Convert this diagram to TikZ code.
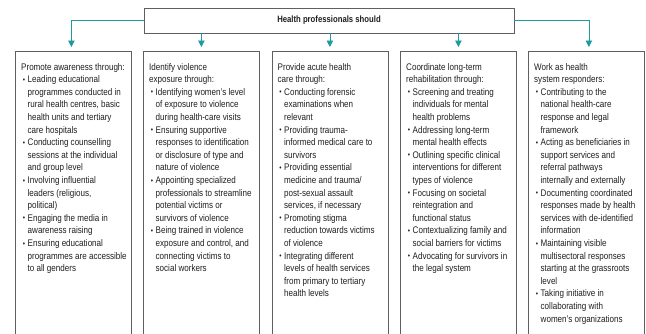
\documentclass[tikz,border=0pt]{standalone}
\usepackage{fontspec}
\setmainfont[FakeStretch=0.84]{Liberation Sans}
\usetikzlibrary{arrows.meta}
\definecolor{tealline}{RGB}{30,155,158}
\definecolor{boxgray}{RGB}{95,95,95}
\definecolor{txt}{RGB}{30,30,30}
\newlength{\bulletind}
\setlength{\bulletind}{6.5pt}
% a column of text: heading lines flush left, bullet lines indented
\newcommand{\colbody}[1]{\parbox[t]{112pt}{\fontsize{9.6}{12.6}\selectfont\color{txt}%
  \raggedright\parindent=0pt\leftskip=\bulletind #1}}
\newcommand{\hd}{\leavevmode\hspace*{-\bulletind}}
\newcommand{\bu}{\leavevmode\llap{\raisebox{0.4pt}{\scalebox{0.8}{\textbullet}}\hspace{2.6pt}}}
\begin{document}
\begin{tikzpicture}[x=1pt,y=-1pt,
  framebox/.style={draw=boxgray,line width=0.8pt,rectangle,inner sep=0pt},
  column/.style={framebox,minimum width=116pt,minimum height=300pt,anchor=north west},
  coltext/.style={anchor=north west,inner sep=0pt},
  conn/.style={draw=tealline,line width=0.8pt,-{Triangle[width=6.5pt,length=6.5pt]},shorten >=4pt}]
\useasboundingbox (0,0) rectangle (646,333);
\clip (0,0) rectangle (646,333);

% heading box
\node[framebox,minimum width=370pt,minimum height=25pt] (top) at (329,20.5)
  {\fontsize{9.2}{11}\selectfont\bfseries\color{txt}Health professionals should};

% five columns
\node[column] (b1) at (15,51) {};
\node[column] (b2) at (143,51) {};
\node[column] (b3) at (271.5,51) {};
\node[column] (b4) at (400,51) {};
\node[column] (b5) at (528,51) {};

% connectors
\draw[conn] (top.west) -| ([xshift=-2pt]b1.north);
\draw[conn] (top.east) -| ([xshift=2.5pt]b5.north);
\draw[conn] (top.south -| b2.north) -- (b2.north);
\draw[conn] (top.south -| b3.north) -- (b3.north);
\draw[conn] (top.south -| b4.north) -- (b4.north);

% column texts
\node[coltext] (t1) at ([xshift=6pt,yshift=-12pt]b1.north west) {\colbody{%
\hd Promote awareness through:\\
\bu Leading educational\\
programmes conducted in\\
rural health centres, basic\\
health units and tertiary\\
care hospitals\\
\bu Conducting counselling\\
sessions at the individual\\
and group level\\
\bu Involving influential\\
leaders (religious,\\
political)\\
\bu Engaging the media in\\
awareness raising\\
\bu Ensuring educational\\
programmes are accessible\\
to all genders}};

\node[coltext] (t2) at ([xshift=6pt,yshift=-12pt]b2.north west) {\colbody{%
\hd Identify violence\\
\hd exposure through:\\
\bu Identifying women’s level\\
of exposure to violence\\
during health-care visits\\
\bu Ensuring supportive\\
responses to identification\\
or disclosure of type and\\
nature of violence\\
\bu Appointing specialized\\
professionals to streamline\\
potential victims or\\
survivors of violence\\
\bu Being trained in violence\\
exposure and control, and\\
connecting victims to\\
social workers}};

\node[coltext] (t3) at ([xshift=6pt,yshift=-12pt]b3.north west) {\colbody{%
\hd Provide acute health\\
\hd care through:\\
\bu Conducting forensic\\
examinations when\\
relevant\\
\bu Providing trauma-\\
informed medical care to\\
survivors\\
\bu Providing essential\\
medicine and trauma/\\
post-sexual assault\\
services, if necessary\\
\bu Promoting stigma\\
reduction towards victims\\
of violence\\
\bu Integrating different\\
levels of health services\\
from primary to tertiary\\
health levels}};

\node[coltext] (t4) at ([xshift=6pt,yshift=-12pt]b4.north west) {\colbody{%
\hd Coordinate long-term\\
\hd rehabilitation through:\\
\bu Screening and treating\\
individuals for mental\\
health problems\\
\bu Addressing long-term\\
mental health effects\\
\bu Outlining specific clinical\\
interventions for different\\
types of violence\\
\bu Focusing on societal\\
reintegration and\\
functional status\\
\bu Contextualizing family and\\
social barriers for victims\\
\bu Advocating for survivors in\\
the legal system}};

\node[coltext] (t5) at ([xshift=6pt,yshift=-12pt]b5.north west) {\colbody{%
\hd Work as health\\
\hd system responders:\\
\bu Contributing to the\\
national health-care\\
response and legal\\
framework\\
\bu Acting as beneficiaries in\\
support services and\\
referral pathways\\
internally and externally\\
\bu Documenting coordinated\\
responses made by health\\
services with de-identified\\
information\\
\bu Maintaining visible\\
multisectoral responses\\
starting at the grassroots\\
level\\
\bu Taking initiative in\\
collaborating with\\
women’s organizations}};
\end{tikzpicture}
\end{document}
